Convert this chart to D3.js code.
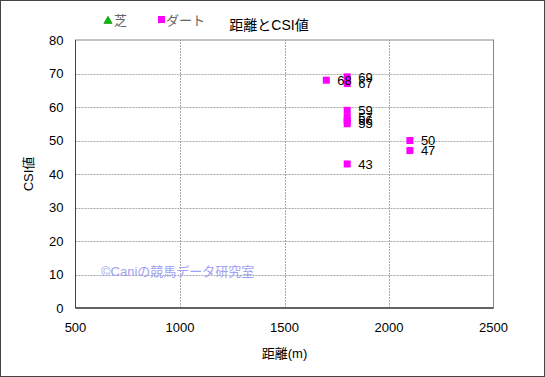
<!DOCTYPE html>
<html>
<head>
<meta charset="utf-8">
<script src="https://cdn.jsdelivr.net/npm/d3@7"></script>
<style>
  body { margin: 0; background: #fff; }
  svg text { font-family: "Liberation Sans", "Noto Sans CJK JP", sans-serif; }
</style>
</head>
<body>
<div id="chart"></div>
<script>
// ダート data: distance (m) and CSI
const dirtDistance = [1700, 1800, 1800, 1800, 1800, 1800, 1800, 2100, 2100, 1800];
const dirtCSI      = [68,   69,   67,   59,   57,   56,   55,   50,   47,   43];
// 芝 has no points
const turfDistance = [];
const turfCSI = [];

const xTicks = [500, 1000, 1500, 2000, 2500];
const yTicks = [0, 10, 20, 30, 40, 50, 60, 70, 80];

const width = 545, height = 377;
const margin = { top: 40, right: 51.5, bottom: 69, left: 75.5 };

const svg = d3.select("#chart")
  .append("svg")
  .attr("width", width)
  .attr("height", height);

// outer frame
svg.append("rect")
  .attr("x", 0.5).attr("y", 0.5)
  .attr("width", width - 1).attr("height", height - 1)
  .attr("fill", "#fff")
  .attr("stroke", "#444");

let x = d3.scaleLinear()
  .domain([500, 2500])
  .range([margin.left, width - margin.right]);

let y = d3.scaleLinear()
  .domain([0, 80])
  .range([height - margin.bottom, margin.top]);

// grid lines (dotted)
svg.append("g")
  .selectAll("line")
  .data(yTicks.slice(1, -1))
  .join("line")
  .attr("x1", x(500)).attr("x2", x(2500))
  .attr("y1", d => Math.round(y(d)) + 0.5)
  .attr("y2", d => Math.round(y(d)) + 0.5)
  .attr("stroke", "#a8a8a8")
  .attr("stroke-dasharray", "2,1");

svg.append("g")
  .selectAll("line")
  .data(xTicks.slice(1, -1))
  .join("line")
  .attr("y1", y(0)).attr("y2", y(80))
  .attr("x1", d => Math.round(x(d)) + 0.5)
  .attr("x2", d => Math.round(x(d)) + 0.5)
  .attr("stroke", "#a8a8a8")
  .attr("stroke-dasharray", "2,1");

// plot frame
svg.append("rect")
  .attr("x", x(500)).attr("y", y(80))
  .attr("width", x(2500) - x(500))
  .attr("height", y(0) - y(80))
  .attr("fill", "none")
  .attr("stroke", "#888");

svg.append("line")
  .attr("x1", x(500)).attr("x2", x(2500))
  .attr("y1", y(0)).attr("y2", y(0))
  .attr("stroke", "#444").attr("stroke-width", 1.5);
svg.append("line")
  .attr("x1", x(500)).attr("x2", x(500))
  .attr("y1", y(0)).attr("y2", y(80))
  .attr("stroke", "#444").attr("stroke-width", 1);

// tick labels
svg.append("g")
  .attr("text-anchor", "end")
  .attr("font-size", 13)
  .selectAll("text")
  .data(yTicks)
  .join("text")
  .attr("x", margin.left - 12)
  .attr("y", d => y(d))
  .attr("dy", "0.35em")
  .text(d => d);

svg.append("g")
  .attr("text-anchor", "middle")
  .attr("font-size", 13)
  .selectAll("text")
  .data(xTicks)
  .join("text")
  .attr("x", d => x(d))
  .attr("y", y(0) + 24)
  .text(d => d);

// axis titles
svg.append("text")
  .attr("x", (x(500) + x(2500)) / 2)
  .attr("y", 358)
  .attr("text-anchor", "middle")
  .attr("font-size", 13)
  .text("距離(m)");

svg.append("text")
  .attr("transform", `translate(33,${(y(0) + y(80)) / 2}) rotate(-90)`)
  .attr("text-anchor", "middle")
  .attr("font-size", 13)
  .text("CSI値");

// chart title
svg.append("text")
  .attr("x", 269)
  .attr("y", 30)
  .attr("text-anchor", "middle")
  .attr("font-size", 14)
  .text("距離とCSI値");

// watermark
svg.append("text")
  .attr("x", 101)
  .attr("y", 276)
  .attr("font-size", 13)
  .attr("fill", "#a0a0f4")
  .text("©Caniの競馬データ研究室");

// legend
let legend = svg.append("g").attr("font-size", 13);
legend.append("path")
  .attr("d", d3.symbol(d3.symbolTriangle, 30)())
  .attr("transform", "translate(108,21)")
  .attr("fill", "#00c000")
  .attr("stroke", "#006000")
  .attr("stroke-width", 0.5);
legend.append("text").attr("x", 114).attr("y", 25).attr("fill", "#666").text("芝");
legend.append("rect")
  .attr("x", 158).attr("y", 16).attr("width", 7).attr("height", 7)
  .attr("fill", "#ff00ff");
legend.append("text").attr("x", 166).attr("y", 25).attr("fill", "#666").text("ダート");

// points
const dirt = d3.zip(dirtDistance, dirtCSI);
const turf = d3.zip(turfDistance, turfCSI);
const size = 7;

svg.append("g")
  .selectAll("path")
  .data(turf)
  .join("path")
  .attr("d", d3.symbol(d3.symbolTriangle, 30)())
  .attr("transform", d => `translate(${x(d[0])},${y(d[1])})`)
  .attr("fill", "#00c000");

svg.append("g")
  .selectAll("rect")
  .data(dirt)
  .join("rect")
  .attr("x", d => x(d[0]) - size / 2)
  .attr("y", d => y(d[1]) - size / 2)
  .attr("width", size)
  .attr("height", size)
  .attr("fill", "#ff00ff");

svg.append("g")
  .attr("font-size", 13)
  .selectAll("text")
  .data(dirt)
  .join("text")
  .attr("x", d => x(d[0]) + 11)
  .attr("y", d => y(d[1]))
  .attr("dy", "0.36em")
  .text(d => d[1]);
</script>
</body>
</html>
